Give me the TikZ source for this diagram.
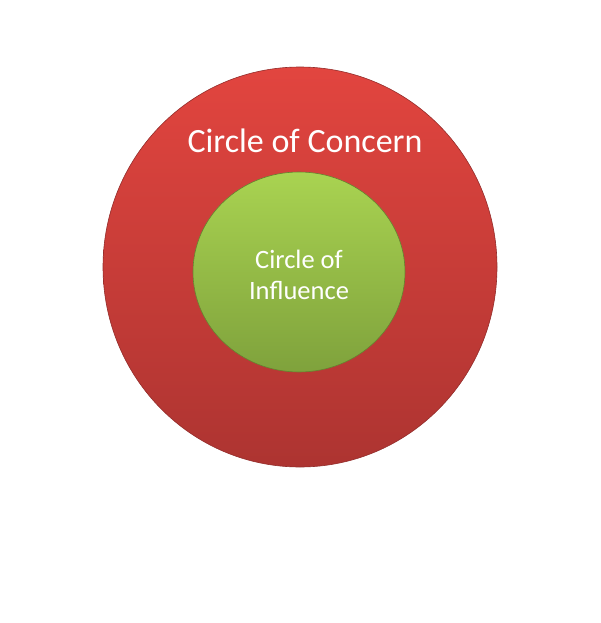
\documentclass[tikz,border=0pt]{standalone}
\usepackage{fontspec}
\setmainfont{Carlito}
\definecolor{redtop}{HTML}{E2453F}
\definecolor{redbot}{HTML}{AD3431}
\definecolor{greentop}{HTML}{A9D351}
\definecolor{greenbot}{HTML}{7FA23C}
\tikzset{
  concern/.style={ellipse, minimum width=394pt, minimum height=400pt, inner sep=0pt,
    top color=redtop, bottom color=redbot, draw=redbot!85!black, line width=0.6pt},
  influence/.style={ellipse, minimum width=212pt, minimum height=200pt, inner sep=0pt,
    top color=greentop, bottom color=greenbot, draw=greenbot!80!black, line width=0.6pt},
  lbl/.style={text=white, inner sep=0pt, align=center}
}
\usetikzlibrary{shapes.geometric}
\begin{document}
\begin{tikzpicture}[x=1pt,y=-1pt]
\useasboundingbox (0,0) rectangle (600,623);
\node[concern] (outer) at (300,267) {};
\node[influence] (inner) at (299,272) {};
\node[lbl, font=\fontsize{34}{40}\selectfont, anchor=base] (tc) at (305,152) {Circle of Concern};
\node[lbl, font=\fontsize{26.5}{31}\selectfont, anchor=base] (ti1) at (299,268) {Circle of};
\node[lbl, font=\fontsize{26.5}{31}\selectfont, anchor=base] (ti2) at (299,299) {Influence};
\end{tikzpicture}
\end{document}
